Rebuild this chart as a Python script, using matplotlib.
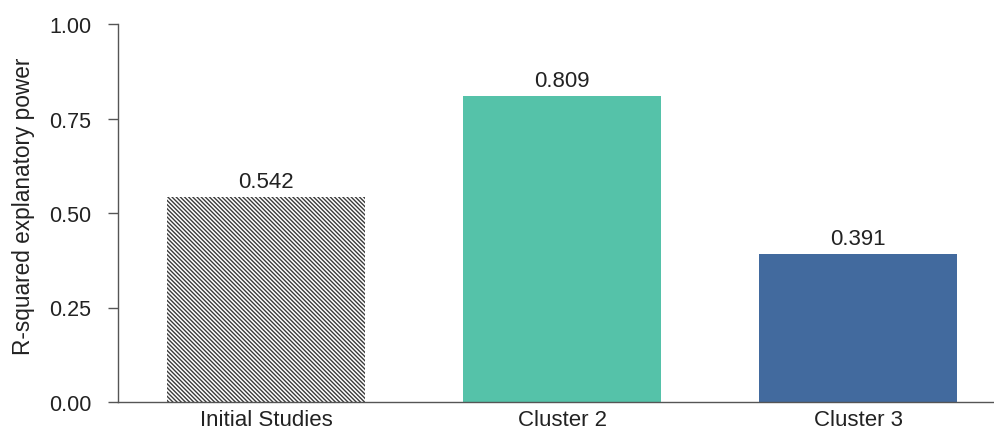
import matplotlib
matplotlib.use("Agg")
import matplotlib.pyplot as plt

plt.rcParams['font.family'] = ['Liberation Sans', 'DejaVu Sans']
plt.rcParams['hatch.linewidth'] = 1.0

categories = ["Initial Studies", "Cluster 2", "Cluster 3"]
values = [0.542, 0.809, 0.391]
labels = ["0.542", "0.809", "0.391"]
yticks = [0.0, 0.25, 0.50, 0.75, 1.00]
ytick_labels = ["0.00", "0.25", "0.50", "0.75", "1.00"]

fig = plt.figure(figsize=(9.95, 4.31), dpi=100)
ax = fig.add_axes([118 / 995, 1 - 403 / 431, (1006 - 118) / 995, (403 - 25) / 431])

x = list(range(len(categories)))
facecolors = ["white", "#55c2a9", "#426a9e"]
bars = ax.bar(x, values, width=0.67, color=facecolors, linewidth=0, zorder=2)
bars[0].set_hatch("\\" * 8)
bars[0].set_edgecolor("#3a3a3a")

for xi, v, lab in zip(x, values, labels):
    ax.text(xi, v + 0.014, lab, ha="center", va="bottom", fontsize=16, color="#222222")

ax.set_xlim(-0.5, 2.5)
ax.set_ylim(0, 1)
ax.set_xticks(x)
ax.set_xticklabels(categories, fontsize=16, color="#222222")
ax.set_yticks(yticks)
ax.set_yticklabels(ytick_labels, fontsize=15.5, color="#222222")
ax.tick_params(axis="x", length=0, pad=5)
ax.tick_params(axis="y", length=7, width=1, color="#555555", pad=12)
ax.set_ylabel("R-squared explanatory power", fontsize=16.3, color="#222222")
ax.yaxis.set_label_coords(-0.094, 0.52)

for s in ["top", "right"]:
    ax.spines[s].set_visible(False)
for s in ["left", "bottom"]:
    ax.spines[s].set_color("#555555")
    ax.spines[s].set_linewidth(1)

fig.savefig("out.png", dpi=100)
